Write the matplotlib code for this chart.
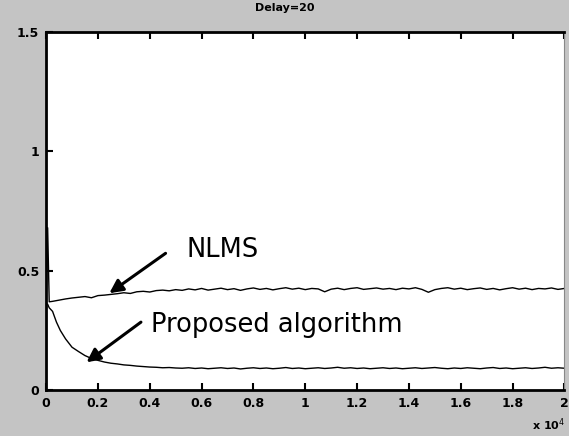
import numpy as np
import matplotlib.pyplot as plt
from matplotlib.ticker import FixedLocator, FuncFormatter

# sample index: dense at the start, then every 250 samples
early_n = [0, 60, 120, 250, 400, 550, 750, 1000]
tail_n = list(range(1250, 20001, 250))
samples = np.array(early_n + tail_n)

nlms = [0.36, 0.68, 0.37, 0.372, 0.375, 0.378, 0.382, 0.386,
        0.389, 0.392, 0.387, 0.396, 0.398, 0.401, 0.404, 0.408, 0.405, 0.412,
        0.414, 0.411, 0.417, 0.419, 0.416, 0.421, 0.418, 0.424, 0.420, 0.426,
        0.419, 0.423, 0.427, 0.421, 0.425, 0.418, 0.424, 0.428, 0.422, 0.426,
        0.420, 0.425, 0.429, 0.423, 0.427, 0.421, 0.426, 0.424, 0.412, 0.423,
        0.427, 0.421, 0.426, 0.429, 0.422, 0.425, 0.428, 0.423, 0.426, 0.421,
        0.427, 0.424, 0.429, 0.422, 0.410, 0.421, 0.426, 0.429, 0.423, 0.427,
        0.421, 0.425, 0.428, 0.422, 0.426, 0.420, 0.425, 0.429, 0.423, 0.427,
        0.421, 0.426, 0.424, 0.428, 0.422, 0.426]

proposed = [0.36, 0.36, 0.345, 0.33, 0.285, 0.25, 0.215, 0.18,
            0.162, 0.145, 0.133, 0.125, 0.118, 0.113, 0.110, 0.106, 0.104, 0.101,
            0.099, 0.097, 0.096, 0.094, 0.095, 0.093, 0.092, 0.094, 0.091, 0.093,
            0.090, 0.092, 0.094, 0.091, 0.093, 0.089, 0.092, 0.094, 0.091, 0.093,
            0.090, 0.092, 0.095, 0.091, 0.093, 0.090, 0.092, 0.094, 0.091, 0.093,
            0.096, 0.092, 0.094, 0.091, 0.093, 0.090, 0.092, 0.094, 0.091, 0.093,
            0.090, 0.092, 0.094, 0.091, 0.093, 0.095, 0.092, 0.090, 0.093, 0.091,
            0.094, 0.092, 0.090, 0.093, 0.095, 0.091, 0.093, 0.090, 0.092, 0.094,
            0.091, 0.093, 0.096, 0.092, 0.094, 0.092]

xticks = [0, 2000, 4000, 6000, 8000, 10000, 12000, 14000, 16000, 18000, 20000]
xtick_labels = ["0", "0.2", "0.4", "0.6", "0.8", "1", "1.2", "1.4", "1.6", "1.8", "2"]
yticks = [0, 0.5, 1, 1.5]
ytick_labels = ["0", "0.5", "1", "1.5"]

fig = plt.figure(figsize=(5.69, 4.36), dpi=100, facecolor="#c4c4c4")
ax = fig.add_axes([0.081, 0.105, 0.911, 0.822])
ax.set_facecolor("white")

ax.plot(samples, nlms, color="black", lw=1.0)
ax.plot(samples, proposed, color="black", lw=1.0)

ax.set_xlim(0, 20000)
ax.set_ylim(0, 1.5)
ax.xaxis.set_major_locator(FixedLocator(xticks))
ax.xaxis.set_major_formatter(FuncFormatter(lambda v, p: xtick_labels[xticks.index(int(round(v)))]))
ax.set_yticks(yticks)
ax.set_yticklabels(ytick_labels)
ax.tick_params(direction="in", length=5, width=1.5, top=True, right=False,
               labelsize=9, pad=5)
for lbl in ax.get_xticklabels() + ax.get_yticklabels():
    lbl.set_fontweight("bold")

for side in ["left", "bottom", "top"]:
    ax.spines[side].set_linewidth(2)
ax.spines["right"].set_linewidth(0.8)
ax.spines["right"].set_color("#888888")

fig.text(0.5, 0.982, "Delay=20", ha="center", va="center", fontsize=8, fontweight="bold")
fig.text(0.994, 0.025, r"x 10$^{4}$", ha="right", va="center", fontsize=8, fontweight="bold")

arrow = dict(arrowstyle="-|>,head_length=0.8,head_width=0.4", color="black", lw=2.2,
             shrinkA=0, shrinkB=0)
ax.annotate("", xy=(2440, 0.406), xytext=(4610, 0.573), arrowprops=arrow)
ax.annotate("", xy=(1560, 0.117), xytext=(3660, 0.285), arrowprops=arrow)
ax.text(5410, 0.585, "NLMS", fontsize=18.5, va="center", ha="left")
ax.text(4040, 0.272, "Proposed algorithm", fontsize=18.5, va="center", ha="left")

fig.savefig("out.png", dpi=100, facecolor=fig.get_facecolor())
